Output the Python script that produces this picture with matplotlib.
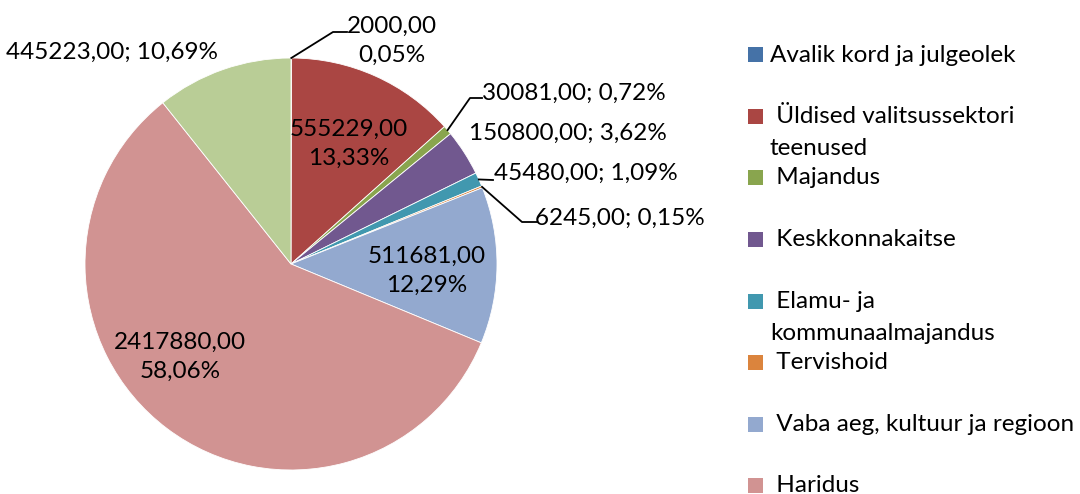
import numpy as np
import matplotlib
matplotlib.use('Agg')
import matplotlib.pyplot as plt
from matplotlib.patches import Rectangle

plt.rcParams['font.family'] = ['Lato', 'DejaVu Sans']

# data
categories = ['Avalik kord ja julgeolek', ' Üldised valitsussektori\nteenused', ' Majandus',
              ' Keskkonnakaitse', ' Elamu- ja\nkommunaalmajandus', ' Tervishoid',
              ' Vaba aeg, kultuur ja regioon', ' Haridus', ' Sotsiaalne kaitse']
values = [2000.00, 555229.00, 30081.00, 150800.00, 45480.00, 6245.00, 511681.00, 2417880.00, 445223.00]
percents = ['0,05%', '13,33%', '0,72%', '3,62%', '1,09%', '0,15%', '12,29%', '58,06%', '10,69%']
colors = ['#4572A7', '#AA4643', '#89A54E', '#71588F', '#4198AF', '#DB843D', '#93A9CF', '#D19392', '#B9CD96']

W, H = 1080, 494
fig = plt.figure(figsize=(W / 100, H / 100), dpi=100)

# pie centre and radius in pixels
cx, cy, R = 291, 264, 206
ax = fig.add_axes([(cx - R) / W, (H - cy - R) / H, 2 * R / W, 2 * R / H])
wedges, _ = ax.pie(values, colors=colors, startangle=90, counterclock=False, radius=1,
                   wedgeprops=dict(edgecolor='white', linewidth=0.6))
ax.set_xlim(-1, 1)
ax.set_ylim(-1, 1)
ax.axis('off')


def d(px, py):
    # pixel -> data coords of the pie axes
    return (px - cx) / R, (cy - py) / R


def fmt(v):
    return ('%.2f' % v).replace('.', ',')


fs = 17.5
# label positions (pixel centres) and style: two-line or one-line
lab_pos = [(392, 41, 2), (349, 144, 2), (574, 93, 1), (568, 133, 1), (586, 173, 1),
           (620, 218, 1), (427, 271, 2), (180, 357, 2), (112, 52, 1)]
for v, p, (px, py, mode) in zip(values, percents, lab_pos):
    txt = fmt(v) + ('\n' if mode == 2 else '; ') + p
    x, y = d(px, py)
    ax.text(x, y, txt, ha='center', va='center', fontsize=fs, linespacing=1.45,
            color='black', clip_on=False)

# leader lines
fr = np.cumsum([0] + values) / sum(values)
def edge(i):
    a = np.deg2rad(90 - 360 * (fr[i] + fr[i + 1]) / 2)
    return np.cos(a), np.sin(a)

leaders = {0: [(333, 32), (347, 32)], 2: [(470, 98), (482, 98)],
           4: [(493, 180)], 5: [(522, 222), (537, 222)]}
for i, pts in leaders.items():
    xs, ys = [edge(i)[0]], [edge(i)[1]]
    for px, py in pts:
        x, y = d(px, py)
        xs.append(x)
        ys.append(y)
    ax.plot(xs, ys, color='black', lw=1.3, clip_on=False)

# legend
for k, (name, c) in enumerate(zip(categories, colors)):
    y = 55 + k * 61.5
    fig.patches.append(Rectangle((748 / W, 1 - (y + 7.5) / H), 15 / W, 15 / H,
                                 facecolor=c, edgecolor='none', transform=fig.transFigure))
    for j, line in enumerate(name.split('\n')):
        fig.text(770 / W, 1 - (y + j * 32) / H, line, ha='left', va='center', fontsize=fs)

fig.savefig('out.png', dpi=100)
